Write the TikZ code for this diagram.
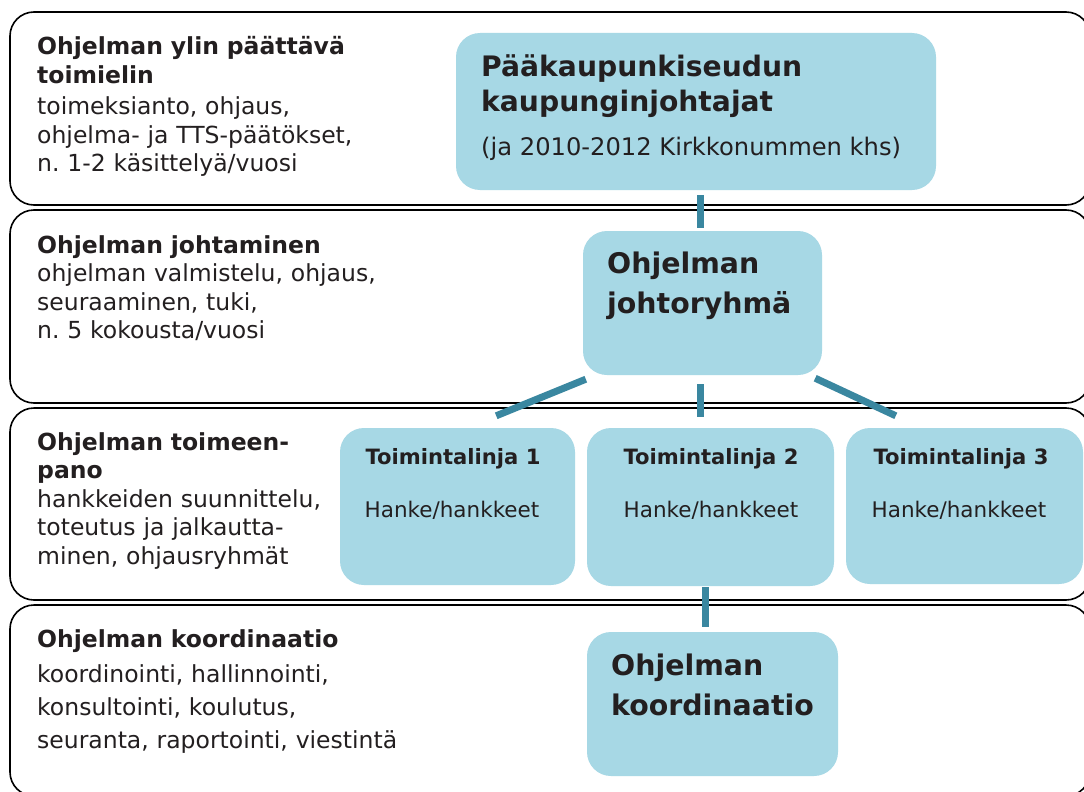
\documentclass[tikz,border=0pt]{standalone}
\usepackage{fontspec}
\setmainfont{DejaVu Sans}
\frenchspacing
\definecolor{boxblue}{HTML}{A7D8E5}
\definecolor{linkteal}{HTML}{3A87A0}
\definecolor{ink}{HTML}{231F20}
\begin{document}
\begin{tikzpicture}[x=1pt,y=-1pt,
  band/.style={draw=black, line width=1.6pt, rounded corners=24pt},
  bbox/.style={fill=boxblue, rounded corners=24pt, inner sep=0pt},
  link/.style={draw=linkteal, line width=7pt},
  txt/.style={anchor=base west, inner sep=0pt, align=left, text=ink},
  lefttext/.style={txt, text width=390pt, font=\fontsize{23.5}{28.5}\selectfont},
  bigtitle/.style={txt, text width=420pt, font=\bfseries\fontsize{28.2}{35}\selectfont},
  boxtitle/.style={txt, text width=220pt, font=\bfseries\fontsize{28.4}{40}\selectfont},
  ttitle/.style={anchor=base, inner sep=0pt, text=ink, font=\bfseries\fontsize{21.1}{25}\selectfont},
  tsub/.style={anchor=base, inner sep=0pt, text=ink, font=\fontsize{21.5}{25}\selectfont}
]
\useasboundingbox (0,0) rectangle (1084,792);
\fill[white] (0,0) rectangle (1084,792);
\clip (0,0) rectangle (1084,792);

% bands
\draw[band] (10,12) rectangle (1090,205);
\draw[band] (10,210) rectangle (1090,403);
\draw[band] (10,408) rectangle (1090,600);
\draw[band] (10,605) rectangle (1090,796);

% left texts
\node[lefttext] (l1) at (37,55) {\textbf{Ohjelman ylin päättävä}\\\textbf{toimielin}\\[3pt]toimeksianto, ohjaus,\\ohjelma- ja TTS-päätökset,\\n. 1-2 käsittelyä/vuosi};
\node[lefttext] (l2) at (37,253) {\textbf{Ohjelman johtaminen}\\ohjelman valmistelu, ohjaus,\\seuraaminen, tuki,\\n. 5 kokousta/vuosi};
\node[lefttext] (l3) at (37,450) {\textbf{Ohjelman toimeen-}\\\textbf{pano}\\hankkeiden suunnittelu,\\toteutus ja jalkautta-\\minen, ohjausryhmät};
\node[lefttext, font=\fontsize{23.5}{33}\selectfont] (l4) at (37,647) {\textbf{Ohjelman koordinaatio}\\[2pt]koordinointi, hallinnointi,\\konsultointi, koulutus,\\seuranta, raportointi, viestintä};

% blue boxes
\node[bbox, minimum width=480pt, minimum height=157pt] (top) at (696,111.5) {};
\node[bbox, minimum width=239pt, minimum height=144pt] (johto) at (702.5,303) {};
\node[bbox, minimum width=235pt, minimum height=157pt] (T1) at (457.5,506.5) {};
\node[bbox, minimum width=247pt, minimum height=158pt] (T2) at (710.5,507) {};
\node[bbox, minimum width=237pt, minimum height=156pt] (T3) at (964.5,506) {};
\node[bbox, minimum width=251pt, minimum height=144pt] (koord) at (712.5,704) {};

% box texts
\node[bigtitle] (toptitle) at (481,77) {Pääkaupunkiseudun\\kaupunginjohtajat};
\node[txt, font=\fontsize{24.2}{28}\selectfont] (topsub) at (481,155) {(ja 2010-2012 Kirkkonummen khs)};
\node[boxtitle] (johtotext) at (607,273) {Ohjelman\\johtoryhmä};
\node[boxtitle] (koordtext) at (611,675) {Ohjelman\\koordinaatio};
\node[ttitle] (t1a) at (453,464) {Toimintalinja 1};
\node[tsub] (t1b) at (452,517) {Hanke/hankkeet};
\node[ttitle] (t2a) at (711,464) {Toimintalinja 2};
\node[tsub] (t2b) at (711,517) {Hanke/hankkeet};
\node[ttitle] (t3a) at (961,464) {Toimintalinja 3};
\node[tsub] (t3b) at (959,517) {Hanke/hankkeet};

% connectors
\draw[link, shorten <=5pt, shorten >=3pt] ([xshift=4pt]top.south) -- ([xshift=-2.5pt]johto.north);
\draw[link, shorten <=9pt, shorten >=11pt] ([xshift=-2.5pt]johto.south) -- ([xshift=-10.5pt]T2.north);
\draw[link] ([shift={(3,4)}]johto.south west) -- ([shift={(-79,-12)}]T1.north east);
\draw[link] ([shift={(-7,3)}]johto.south east) -- ([shift={(50,-12)}]T3.north west);
\draw[link, shorten <=1pt, shorten >=5pt] ([xshift=-5.5pt]T2.south) -- ([xshift=-7.5pt]koord.north);
\end{tikzpicture}
\end{document}
